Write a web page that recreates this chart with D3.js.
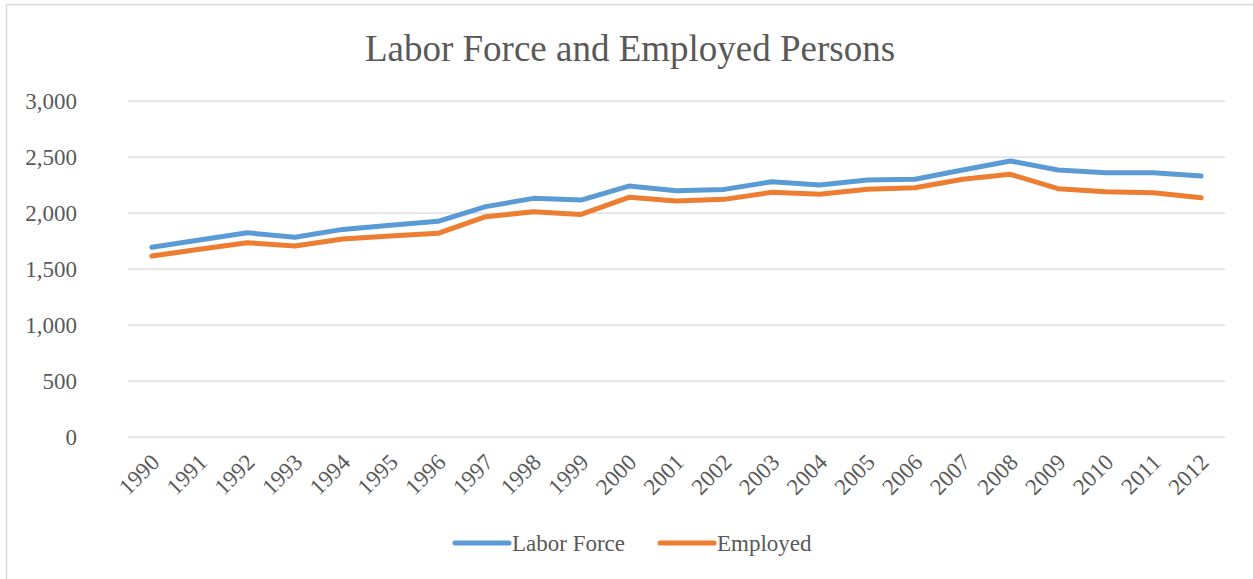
<!DOCTYPE html>
<html>
<head>
<meta charset="utf-8">
<title>Labor Force and Employed Persons</title>
<script src="https://d3js.org/d3.v7.min.js"></script>
<style>
  body { margin: 0; background: #fff; }
  .chart text { font-family: "Liberation Serif", "Times New Roman", serif; fill: #595959; }
  .grid line { stroke: #d9d9d9; stroke-width: 1.3; }
  .grid .domain { display: none; }
</style>
</head>
<body>
<svg class="chart"></svg>
<script>
// data
var years = ["1990","1991","1992","1993","1994","1995","1996","1997","1998","1999","2000","2001",
             "2002","2003","2004","2005","2006","2007","2008","2009","2010","2011","2012"];
var laborForce = [1691, 1756, 1821, 1780, 1851, 1887, 1923, 2054, 2128, 2113, 2238, 2196,
                  2208, 2277, 2247, 2292, 2298, 2381, 2462, 2381, 2357, 2357, 2328];
var employed = [1613, 1673, 1732, 1703, 1765, 1792, 1816, 1964, 2009, 1985, 2137, 2104,
                2119, 2182, 2164, 2209, 2223, 2298, 2343, 2214, 2188, 2179, 2134];
var yTicks = [0, 500, 1000, 1500, 2000, 2500, 3000];
var seriesNames = ["Labor Force", "Employed"];
var seriesColors = ["#5b9bd5", "#ed7d31"];

var W = 1253, H = 579;
var margin = {top: 100.7, right: 28, bottom: 142.3, left: 128};
var width = W - margin.left - margin.right;
var height = H - margin.top - margin.bottom;

var svg = d3.select(".chart").attr("width", W).attr("height", H);

// outer frame
svg.append("rect")
  .attr("x", 6.5).attr("y", 4.5)
  .attr("width", W).attr("height", H)
  .attr("fill", "none").attr("stroke", "#d9d9d9").attr("stroke-width", 1.5);

// title
svg.append("text")
  .attr("x", 630).attr("y", 61)
  .attr("text-anchor", "middle")
  .attr("font-size", "37px")
  .text("Labor Force and Employed Persons");

var chart = svg.append("g")
  .attr("transform", "translate(" + margin.left + "," + margin.top + ")");

var x = d3.scalePoint().domain(years).range([0, width]).padding(0.5);
var y = d3.scaleLinear().domain([0, 3000]).range([height, 0]);

// gridlines
chart.append("g")
  .attr("class", "grid")
  .call(d3.axisLeft(y).tickValues(yTicks).tickSize(-width).tickFormat(""));

// y labels
chart.selectAll(".ylab")
  .data(yTicks)
  .enter().append("text")
  .attr("class", "ylab")
  .attr("x", -51)
  .attr("y", function(d){ return y(d); })
  .attr("dy", "0.35em")
  .attr("text-anchor", "end")
  .attr("font-size", "23px")
  .text(d3.format(","));

// x labels, rotated
chart.selectAll(".xlab")
  .data(years)
  .enter().append("text")
  .attr("class", "xlab")
  .attr("text-anchor", "end")
  .attr("font-size", "23px")
  .attr("transform", function(d){
    return "translate(" + (x(d) + 9) + "," + (height + 27) + ") rotate(-45)";
  })
  .text(function(d){ return d; });

// lines
var line = d3.line()
  .x(function(d, i){ return x(years[i]); })
  .y(function(d){ return y(d); });

[laborForce, employed].forEach(function(s, k){
  chart.append("path")
    .datum(s)
    .attr("fill", "none")
    .attr("stroke", seriesColors[k])
    .attr("stroke-width", 5)
    .attr("stroke-linejoin", "round")
    .attr("stroke-linecap", "round")
    .attr("d", line);
});

// legend
var legendX = [455, 660];
var legend = svg.selectAll(".legend")
  .data(seriesNames)
  .enter().append("g")
  .attr("class", "legend")
  .attr("transform", function(d, i){ return "translate(" + legendX[i] + ",543)"; });

legend.append("line")
  .attr("x1", 0).attr("x2", 54)
  .attr("stroke", function(d, i){ return seriesColors[i]; })
  .attr("stroke-width", 5)
  .attr("stroke-linecap", "round");

legend.append("text")
  .attr("x", 57)
  .attr("dy", "0.33em")
  .attr("font-size", "23px")
  .text(function(d){ return d; });
</script>
</body>
</html>
